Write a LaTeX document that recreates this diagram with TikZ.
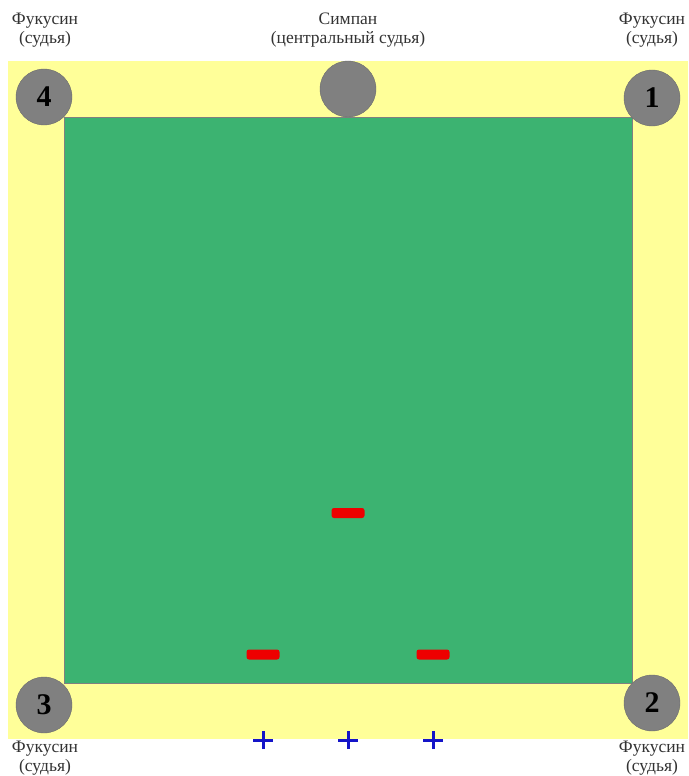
\documentclass[tikz,border=0pt]{standalone}
\usepackage{fontspec}
\setmainfont{Liberation Serif}
\definecolor{fieldyellow}{RGB}{255,255,153}
\definecolor{matgreen}{RGB}{60,179,113}
\definecolor{judgegray}{RGB}{128,128,128}
\definecolor{flagred}{RGB}{238,0,0}
\definecolor{plusblue}{RGB}{20,20,200}
\begin{document}
\begin{tikzpicture}[x=1pt,y=-1pt,
  judge/.style={circle,fill=judgegray,draw=judgegray!85!black,line width=0.4pt,minimum size=56pt,inner sep=0pt,font=\fontsize{30}{30}\selectfont\bfseries},
  lbl/.style={align=center,font=\fontsize{17.5}{19}\selectfont,text=black!80,inner sep=0pt},
  redmark/.style={rectangle,rounded corners=2.5pt,fill=flagred,minimum width=33pt,minimum height=10pt,inner sep=0pt},
  plusmark/.style={draw=plusblue,line width=3pt}]
\useasboundingbox (0,0) rectangle (688,776);
\fill[white] (0,0) rectangle (688,776);
\fill[fieldyellow] (8,61) rectangle (688,739);
\node[draw=judgegray,line width=0.8pt,fill=matgreen,minimum width=568pt,minimum height=566pt,inner sep=0pt] (mat) at (348,400) {};
\node[judge] (j4) at (44,97) {4};
\node[judge] (jc) at (348,89) {};
\node[judge] (j1) at (652,98) {1};
\node[judge] (j3) at (44,705) {3};
\node[judge] (j2) at (652,703) {2};
\node[lbl] (t4) at (45,30) {Фукусин\\(судья)};
\node[lbl] (tc) at (348,30) {Симпан\\(центральный судья)};
\node[lbl] (t1) at (652,30) {Фукусин\\(судья)};
\node[lbl] (t3) at (45,758) {Фукусин\\(судья)};
\node[lbl] (t2) at (652,758) {Фукусин\\(судья)};
\node[redmark] (r1) at (348,513) {};
\node[redmark] (r2) at (263,654.5) {};
\node[redmark] (r3) at (433,654.5) {};
\foreach \x/\n in {263/p1,348/p2,433/p3}{
  \coordinate (\n) at (\x,740);
  \draw[plusmark] ([xshift=-10pt]\n) -- ([xshift=10pt]\n);
  \draw[plusmark] ([yshift=-9pt]\n) -- ([yshift=9pt]\n);
}
\end{tikzpicture}
\end{document}
